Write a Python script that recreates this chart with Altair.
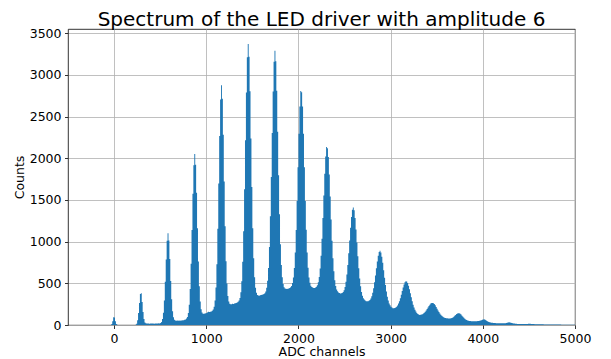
import altair as alt
import pandas as pd

TITLE = "Spectrum of the LED driver with amplitude 6"
X_LABEL = "ADC channels"
Y_LABEL = "Counts"
X_TICKS = [0, 1000, 2000, 3000, 4000, 5000]
Y_TICKS = [0, 500, 1000, 1500, 2000, 2500, 3000, 3500]
X_RANGE = [-500, 5000]
Y_RANGE = [0, 3550]
BIN_WIDTH = 10
BAR_COLOR = "#1f77b4"

# Counts per 10-channel bin; each list starts at the channel noted.
counts_from_m60 = [0, 0, 1, 11, 46, 92, 90, 44, 12, 2, 1, 0, 0, 0, 0, 0, 0, 0, 0, 0, 0, 0]
counts_from_160 = [0, 0, 0, 0, 0, 1, 1, 4, 16, 57, 143, 265, 372, 380, 275, 155, 71, 31, 20, 18,
                   17, 18, 16, 18, 17, 19, 18, 16, 18, 17, 19, 18, 20, 19]
counts_from_500 = [24, 37, 71, 148, 294, 519, 785, 1011, 1100, 1014, 792, 529, 308, 166, 94, 63,
                   54, 52, 53, 50, 54, 52, 55, 53, 56, 58]
counts_from_760 = [62, 67, 77, 96, 143, 244, 433, 736, 1140, 1574, 1916, 2050, 1923, 1587, 1159,
                   763, 466, 283, 190, 149, 136, 134, 138, 141, 144, 152, 160, 156, 158, 163]
counts_from_1060 = [172, 186, 220, 295, 451, 728, 1154, 1697, 2267, 2705, 2875, 2713, 2282, 1720,
                    1185, 766, 497, 349, 281, 255, 248, 250, 254, 252, 258, 262]
counts_from_1320 = [265, 271, 278, 293, 324, 392, 525, 760, 1125, 1627, 2215, 2788, 3210, 3370,
                    3217, 2802, 2236, 1655, 1159, 801, 573, 447, 386, 361, 354, 352, 356, 360, 362]
counts_from_1610 = [366, 372, 382, 402, 446, 532, 684, 936, 1303, 1776, 2302, 2799, 3157, 3290,
                    3162, 2809, 2318, 1797, 1329, 967, 721, 573, 493, 454, 439, 434, 433, 436, 438]
counts_from_1900 = [444, 452, 468, 503, 569, 685, 870, 1140, 1488, 1892, 2294, 2621, 2807, 2790,
                    2621, 2294, 1892, 1488, 1141, 871, 687, 571, 506, 472, 456, 449, 445, 444]
counts_from_2180 = [450, 458, 476, 512, 576, 678, 830, 1034, 1283, 1554, 1815, 2021, 2134, 2120,
                    2016, 1806, 1541, 1265, 1011, 802, 645, 537, 468, 427, 404, 391, 383, 377]
counts_from_2460 = [380, 385, 395, 418, 457, 518, 605, 720, 860, 1014, 1166, 1296, 1382, 1410,
                    1376, 1282, 1146, 988, 826, 680, 559, 464, 397, 352, 322, 305, 294, 286]
counts_from_2740 = [284, 285, 290, 300, 317, 345, 386, 442, 513, 594, 680, 762, 831, 876, 890,
                    871, 820, 746, 658, 566, 479, 402, 340, 293, 259, 236, 220, 209, 202]
counts_from_3030 = [201, 203, 209, 220, 235, 257, 286, 322, 364, 407, 450, 486, 512, 526, 523,
                    504, 472, 430, 382, 333, 286, 244, 209, 182, 161, 145, 133, 125, 120]
counts_from_3320 = [124, 125, 130, 137, 147, 160, 175, 192, 210, 228, 244, 257, 264, 265, 261,
                    251, 236, 216, 196, 175, 156, 138, 123, 111, 101, 94, 88, 85, 81]
counts_from_3610 = [81, 79, 79, 79, 80, 85, 91, 100, 110, 121, 131, 139, 142, 140, 135, 125, 112,
                    98, 86, 75, 66, 59, 55, 52, 49, 47, 46, 45, 44]
counts_from_3900 = [45, 44, 46, 45, 47, 48, 50, 53, 57, 62, 66, 68, 64, 57, 48, 41, 36, 33, 30, 28,
                    26, 25, 24, 23, 22, 21, 21, 20, 20, 20, 20, 20, 20, 21, 22, 25, 28, 31, 33, 31,
                    27, 24, 21, 19, 17, 15, 14, 13, 13, 12, 12, 12, 11, 11, 11]
counts_from_4450 = [12, 12, 13, 13, 14, 14, 14, 13, 13, 12, 11, 10, 10, 9, 9, 9, 8, 8, 8, 8, 8, 7, 7,
                    7, 7, 7, 7, 6, 6, 6, 6, 6, 6, 5, 5, 5, 5, 5, 5, 5, 4, 4, 4, 4, 4, 3, 3, 3, 3, 3,
                    3, 2, 2, 2, 2]

segments = [
    (-60, counts_from_m60), (160, counts_from_160), (500, counts_from_500),
    (760, counts_from_760), (1060, counts_from_1060), (1320, counts_from_1320),
    (1610, counts_from_1610), (1900, counts_from_1900), (2180, counts_from_2180),
    (2460, counts_from_2460), (2740, counts_from_2740), (3030, counts_from_3030),
    (3320, counts_from_3320), (3610, counts_from_3610), (3900, counts_from_3900),
    (4450, counts_from_4450),
]

bins = {}
for start, counts in segments:
    for i, c in enumerate(counts):
        bins[start + i * BIN_WIDTH] = c
edges = sorted(bins)
rows = [{"channel": e, "count": bins[e]} for e in edges]
rows.append({"channel": edges[-1] + BIN_WIDTH, "count": bins[edges[-1]]})
df = pd.DataFrame(rows)

FONT = "DejaVu Sans"

chart = (
    alt.Chart(df)
    .mark_area(interpolate="step-after", color=BAR_COLOR, opacity=1, clip=True)
    .encode(
        x=alt.X("channel:Q",
                scale=alt.Scale(domain=X_RANGE, nice=False, zero=False),
                axis=alt.Axis(values=X_TICKS, title=X_LABEL, format="d",
                              labelFlush=False, titlePadding=1)),
        y=alt.Y("count:Q",
                scale=alt.Scale(domain=Y_RANGE, nice=False),
                axis=alt.Axis(values=Y_TICKS, title=Y_LABEL, format="d", titlePadding=3)),
    )
    .properties(
        width=507, height=296,
        title=alt.TitleParams(TITLE, fontSize=20, font=FONT, fontWeight="normal",
                              anchor="middle", offset=4, baseline="alphabetic", color="black",
                              dy=23),
        autosize=alt.AutoSizeParams(type="none"),
        padding={"left": 68, "top": 29, "right": 36, "bottom": 34},
    )
    .configure_view(stroke="black", strokeWidth=0.8)
    .configure_axis(
        labelFont=FONT, labelFontSize=12.5, labelColor="black",
        titleFont=FONT, titleFontSize=12.5, titleFontWeight="normal", titleColor="black",
        tickColor="black", tickSize=3.5, tickWidth=0.8, labelPadding=3.5,
        grid=True, gridColor="#b0b0b0", gridWidth=0.8, domain=False, zindex=1,
        labelOverlap=False,
    )
)

chart.save("out.html", embed_options={"renderer": "svg", "actions": False})
